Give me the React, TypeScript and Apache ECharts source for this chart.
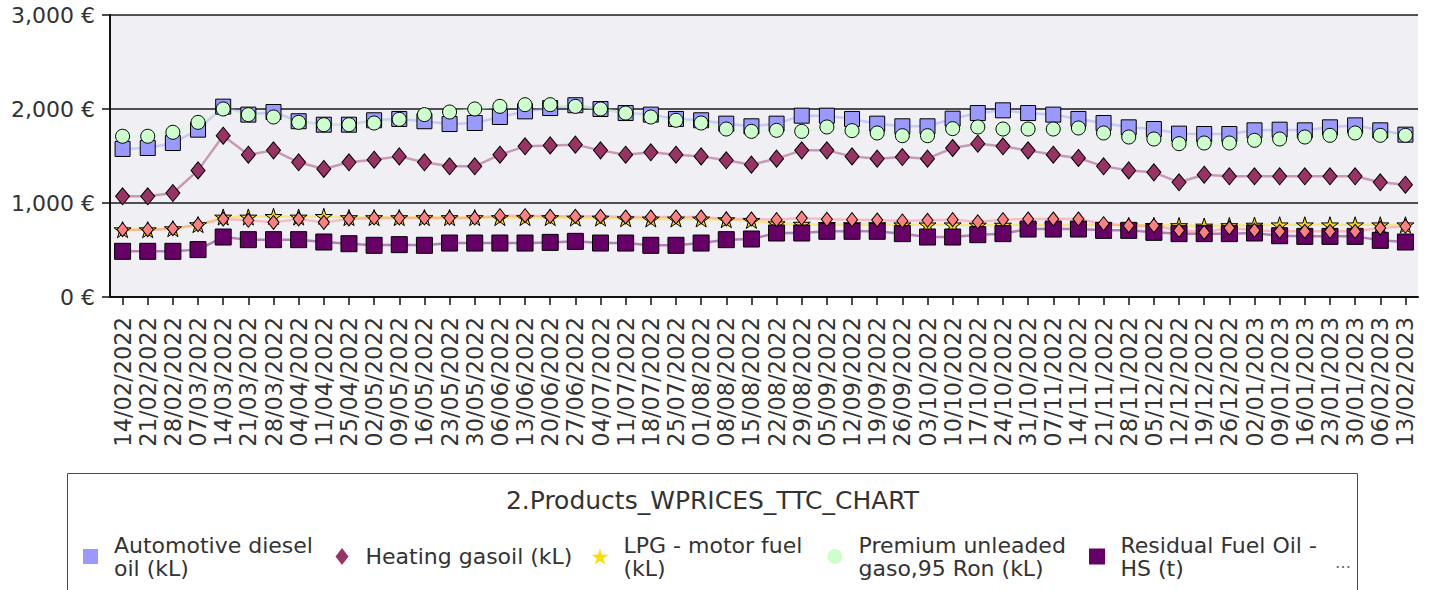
import React, { useEffect, useRef } from "react";
import * as echarts from "echarts";

const dates = [
  "14/02/2022", "21/02/2022", "28/02/2022", "07/03/2022", "14/03/2022", "21/03/2022", "28/03/2022",
  "04/04/2022", "11/04/2022", "25/04/2022", "02/05/2022", "09/05/2022", "16/05/2022", "23/05/2022",
  "30/05/2022", "06/06/2022", "13/06/2022", "20/06/2022", "27/06/2022", "04/07/2022", "11/07/2022",
  "18/07/2022", "25/07/2022", "01/08/2022", "08/08/2022", "15/08/2022", "22/08/2022", "29/08/2022",
  "05/09/2022", "12/09/2022", "19/09/2022", "26/09/2022", "03/10/2022", "10/10/2022", "17/10/2022",
  "24/10/2022", "31/10/2022", "07/11/2022", "14/11/2022", "21/11/2022", "28/11/2022", "05/12/2022",
  "12/12/2022", "19/12/2022", "26/12/2022", "02/01/2023", "09/01/2023", "16/01/2023", "23/01/2023",
  "30/01/2023", "06/02/2023", "13/02/2023",
];

const diesel = [
  1575, 1585, 1638, 1780, 2025, 1940, 1968, 1870, 1833, 1833, 1880, 1894, 1870, 1840, 1851, 1915, 1975,
  2010, 2040, 2000, 1957, 1940, 1894, 1880, 1844, 1816, 1844, 1929, 1929, 1894, 1844, 1816, 1816, 1897,
  1957, 1986, 1957, 1940, 1894, 1851, 1805, 1787, 1738, 1734, 1734, 1773, 1780, 1773, 1805, 1826, 1773,
  1727,
];

const heating = [
  1071, 1071, 1106, 1347, 1716, 1514, 1560, 1433, 1362, 1433, 1461, 1496, 1433, 1390, 1390, 1514, 1603,
  1613, 1621, 1560, 1514, 1539, 1514, 1496, 1454, 1408, 1472, 1560, 1560, 1496, 1472, 1489, 1472, 1585,
  1631, 1603, 1560, 1514, 1479, 1390, 1347, 1326, 1220, 1301, 1284, 1284, 1284, 1284, 1284, 1284, 1220,
  1195,
];

const lpg = [
  716, 716, 727, 770, 851, 851, 858, 851, 858, 845, 845, 845, 845, 845, 845, 845, 845, 845, 840, 840,
  833, 830, 830, 830, 823, 815, 780, 775, 772, 770, 770, 768, 768, 768, 765, 765, 765, 765, 765, 765,
  762, 762, 760, 755, 760, 765, 768, 768, 768, 768, 768, 768,
];

const premium = [
  1710, 1710, 1752, 1858, 2000, 1940, 1915, 1858, 1833, 1833, 1851, 1890, 1940, 1968, 2000, 2028, 2046,
  2046, 2028, 2000, 1957, 1915, 1880, 1851, 1787, 1762, 1773, 1762, 1809, 1770, 1745, 1716, 1716, 1791,
  1809, 1787, 1787, 1787, 1798, 1745, 1702, 1681, 1631, 1638, 1638, 1667, 1681, 1702, 1720, 1745, 1720,
  1720,
];

const residualHS = [
  486, 486, 486, 504, 638, 610, 610, 610, 585, 567, 550, 557, 550, 574, 574, 574, 574, 581, 592, 574,
  574, 550, 550, 574, 610, 617, 681, 681, 699, 699, 699, 674, 638, 638, 663, 674, 723, 723, 723, 709,
  709, 688, 674, 674, 674, 681, 652, 645, 645, 645, 603, 585,
];

const residualLS = [
  716, 716, 727, 770, 830, 816, 794, 830, 794, 830, 840, 840, 840, 840, 840, 865, 865, 858, 858, 858,
  851, 851, 851, 851, 830, 830, 823, 840, 826, 823, 819, 809, 816, 823, 800, 823, 830, 830, 830, 780,
  759, 759, 709, 688, 734, 709, 699, 699, 699, 699, 734, 752,
];

const seriesNames = [
  "Automotive diesel oil (kL)",
  "Heating gasoil (kL)",
  "LPG - motor fuel (kL)",
  "Premium unleaded gaso,95 Ron (kL)",
  "Residual Fuel Oil - HS (t)",
  "Residual Fuel Oil - LS (t)",
];

const legendLabels = [
  "Automotive diesel\noil (kL)",
  "Heating gasoil (kL)",
  "LPG - motor fuel\n(kL)",
  "Premium unleaded\ngaso,95 Ron (kL)",
  "Residual Fuel Oil -\nHS (t)",
];

const chartTitle = "2.Products_WPRICES_TTC_CHART";
const yTicks = [0, 1000, 2000, 3000];

const STAR =
  "path://M50,0L61,35L98,35L68,57L79,91L50,70L21,91L32,57L2,35L39,35Z";

const FONT = "DejaVu Sans";

export default function App() {
  const ref = useRef<HTMLDivElement>(null);

  useEffect(() => {
    if (!ref.current) return;
    const chart = echarts.init(ref.current, undefined, { renderer: "svg" });

    const values = [diesel, heating, lpg, premium, residualHS, residualLS];
    const colors = ["#9999ff", "#993366", "#ffdd00", "#ccffcc", "#660066", "#ff8080"];
    const symbols = ["rect", "diamond", STAR, "circle", "rect", "diamond"];
    const sizes: any[] = [15, [14, 17], 17, 14, 16, [11, 14]];

    const series = values.map((v, i) => ({
      name: seriesNames[i],
      type: "line",
      data: v,
      symbol: symbols[i],
      symbolSize: sizes[i],
      symbolKeepAspect: true,
      showAllSymbol: true,
      lineStyle: { color: colors[i], width: 2.5, opacity: 0.45 },
      itemStyle: { color: colors[i], borderColor: "#000", borderWidth: 1 },
      emphasis: { disabled: true },
    }));

    const legendIcons = ["rect", "diamond", STAR, "circle", "rect"];
    const legendLeft = [83, 335.5, 591.5, 827.5, 1089];
    const legendW = [15, 13, 17, 15, 16];
    const legendH = [15, 17, 17, 15, 16];
    const lineH = 23;
    const centerY = 556.5;

    const legends = legendLabels.map((lab, i) => {
      const nLines = lab.split("\n").length;
      const blockH = Math.max(nLines * lineH, legendH[i]);
      return {
        show: true,
        orient: "horizontal",
        left: legendLeft[i],
        top: centerY - blockH / 2,
        padding: 0,
        itemWidth: legendW[i],
        itemHeight: legendH[i],
        selectedMode: false,
        data: [{ name: seriesNames[i], icon: legendIcons[i] }],
        itemStyle: { borderWidth: 0 },
        formatter: () => lab,
        textStyle: {
          fontFamily: FONT,
          fontSize: 22,
          lineHeight: lineH,
          color: "#333",
          padding: [0, 0, 0, 18.5 - legendW[i] / 2],
        },
      };
    });

    const option: any = {
      animation: false,
      backgroundColor: "#ffffff",
      textStyle: { fontFamily: FONT },
      grid: {
        left: 110,
        right: 12,
        top: 15,
        bottom: 293,
        show: true,
        backgroundColor: "#efeff4",
        borderWidth: 0,
        containLabel: false,
      },
      legend: legends,
      xAxis: {
        type: "category",
        data: dates,
        boundaryGap: true,
        axisLine: { show: true, lineStyle: { color: "#111", width: 2 } },
        axisTick: { show: true, alignWithLabel: true, length: 8, lineStyle: { color: "#111", width: 1.5 } },
        axisLabel: {
          interval: 0,
          rotate: 90,
          margin: 20,
          fontFamily: FONT,
          fontSize: 22.5,
          color: "#333",
        },
        splitLine: { show: false },
      },
      yAxis: {
        type: "value",
        min: yTicks[0],
        max: yTicks[yTicks.length - 1],
        interval: yTicks[1] - yTicks[0],
        axisLine: { show: true, lineStyle: { color: "#111", width: 2 } },
        axisTick: { show: true, length: 8, lineStyle: { color: "#111", width: 1.5 } },
        axisLabel: {
          margin: 15,
          fontFamily: FONT,
          fontSize: 22,
          color: "#333",
          formatter: (v: number) => v.toLocaleString("en-US") + " €",
        },
        splitLine: { show: true, lineStyle: { color: "#1a1a1a", width: 1.5 } },
      },
      graphic: [
        {
          type: "rect",
          z: -1,
          shape: { x: 67.5, y: 473.5, width: 1290, height: 130 },
          style: { fill: "#ffffff", stroke: "#4a4a4a", lineWidth: 1 },
        },
        {
          type: "text",
          x: 712.5,
          y: 500,
          style: {
            text: chartTitle,
            font: `25px "${FONT}"`,
            fill: "#333",
            textAlign: "center",
            textVerticalAlign: "middle",
          },
        },
        {
          type: "text",
          x: 1343,
          y: 562,
          style: {
            text: "…",
            font: `16px "${FONT}"`,
            fill: "#666",
            textAlign: "center",
            textVerticalAlign: "middle",
          },
        },
      ],
      series,
    };

    chart.setOption(option);
    return () => chart.dispose();
  }, []);

  return (
    <div
      ref={ref}
      style={{ position: "absolute", left: 0, top: 0, width: 1430, height: 590 }}
    />
  );
}
